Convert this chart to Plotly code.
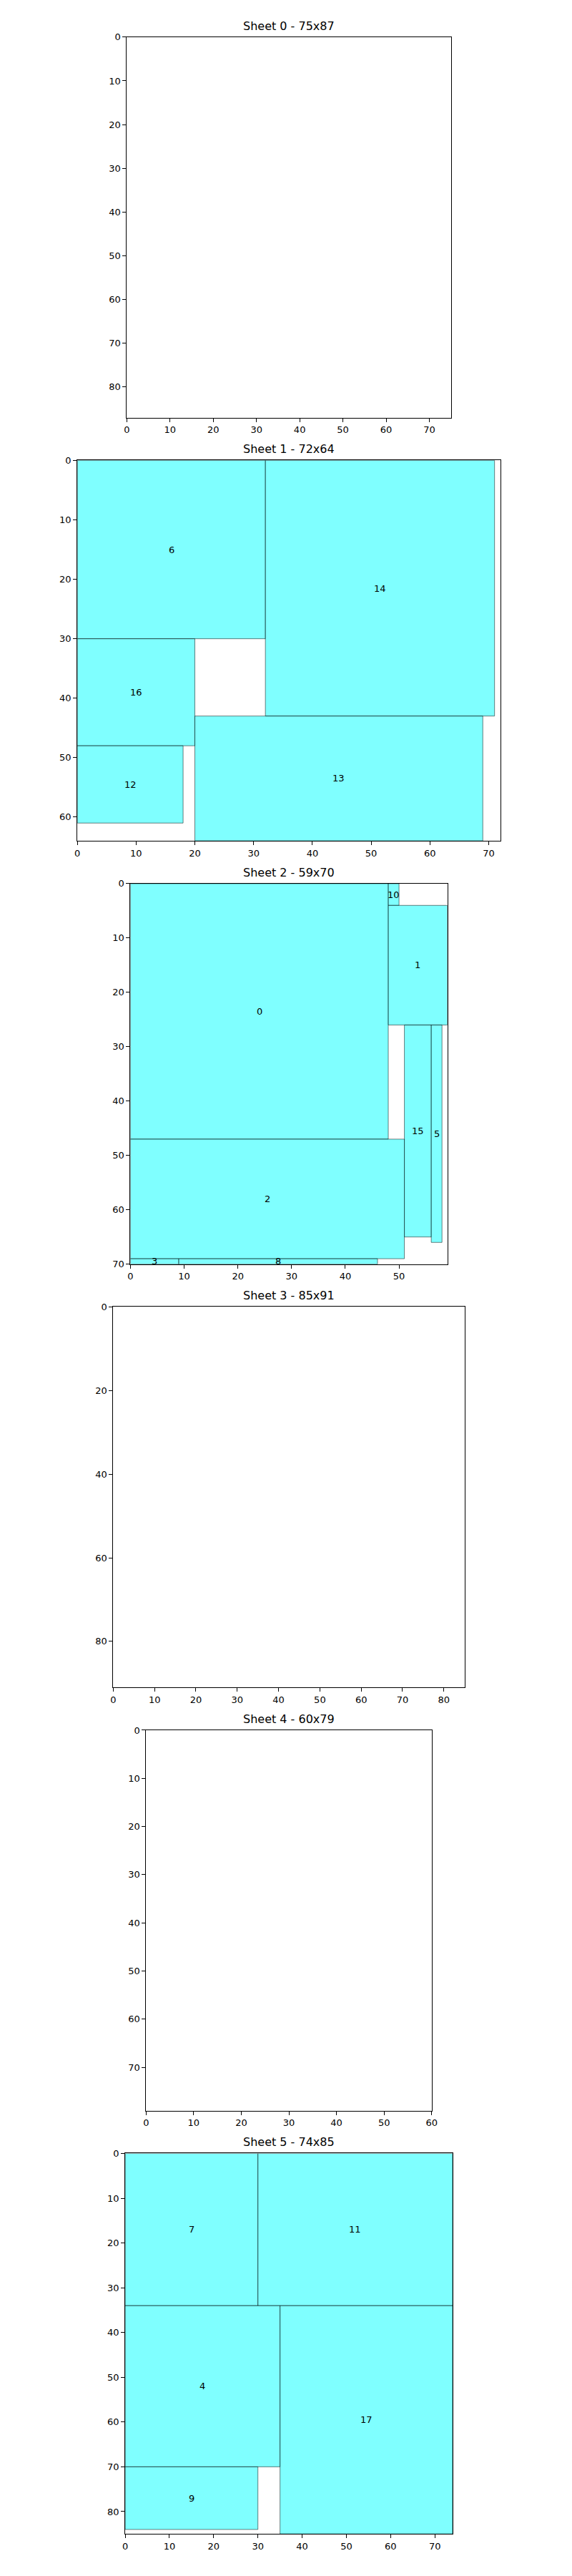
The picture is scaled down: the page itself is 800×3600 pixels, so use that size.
import plotly.graph_objects as go

# sheets
sheet_w = [75, 72, 59, 85, 60, 74]
sheet_h = [87, 64, 70, 91, 79, 85]

# placed pieces: id, sheet, x, y, width, height
piece_id = [6, 14, 16, 12, 13,
            0, 10, 1, 15, 5, 2, 3, 8,
            7, 11, 4, 17, 9]
piece_sheet = [1, 1, 1, 1, 1,
               2, 2, 2, 2, 2, 2, 2, 2,
               5, 5, 5, 5, 5]
piece_x = [0, 32, 0, 0, 20,
           0, 48, 48, 51, 56, 0, 0, 9,
           0, 30, 0, 35, 0]
piece_y = [0, 0, 30, 48, 43,
           0, 0, 4, 26, 26, 47, 69, 69,
           0, 0, 34, 34, 70]
piece_w = [32, 39, 20, 18, 49,
           48, 2, 11, 5, 2, 51, 9, 37,
           30, 44, 35, 39, 30]
piece_h = [30, 43, 18, 13, 21,
           47, 4, 22, 39, 40, 22, 1, 1,
           34, 34, 36, 51, 14]

FIG_W, FIG_H = 800, 3600
TOP0, PITCH, BOX_H, CX = 37, 594, 534, 398

fig = go.Figure()
font = dict(family="DejaVu Sans", size=13, color="black")

for i, (W, H) in enumerate(zip(sheet_w, sheet_h)):
    s = BOX_H / H
    bw = W * s
    x0 = (CX - bw / 2) / FIG_W
    x1 = (CX + bw / 2) / FIG_W
    top = TOP0 + i * PITCH
    y1 = 1 - top / FIG_H
    y0 = 1 - (top + BOX_H) / FIG_H
    n = "" if i == 0 else str(i + 1)
    ax = dict(showgrid=False, zeroline=False, showline=True, mirror=True,
              linecolor="black", linewidth=1, ticks="outside", ticklen=5,
              tickcolor="black", tickfont=font)
    fig.layout["xaxis" + n] = dict(ax, domain=[x0, x1], range=[0, W], dtick=10,
                                   anchor="y" + n)
    fig.layout["yaxis" + n] = dict(ax, domain=[y0, y1], range=[H, 0],
                                   dtick=20 if H > 90 else 10, anchor="x" + n)
    fig.add_annotation(text=f"Sheet {i} - {W}x{H}", xref="paper", yref="paper",
                       x=(x0 + x1) / 2, y=y1, yshift=4, showarrow=False,
                       xanchor="center", yanchor="bottom",
                       font=dict(family="DejaVu Sans", size=16, color="black"))

    # empty trace so every sheet's axes are drawn
    fig.add_trace(go.Scatter(x=[None], y=[None], mode="markers",
                             xaxis="x" + n, yaxis="y" + n,
                             showlegend=False, hoverinfo="skip"))

    for pid, ps, px, py, pw, ph in zip(piece_id, piece_sheet, piece_x, piece_y,
                                        piece_w, piece_h):
        if ps != i:
            continue
        fig.add_trace(go.Scatter(
            x=[px, px + pw, px + pw, px, px], y=[py, py, py + ph, py + ph, py],
            mode="lines", fill="toself", fillcolor="rgba(0,255,255,0.5)",
            line=dict(color="rgba(0,0,0,0.5)", width=1),
            xaxis="x" + n, yaxis="y" + n, showlegend=False, hoverinfo="skip"))
        fig.add_annotation(text=str(pid), x=px + pw / 2, y=py + ph / 2,
                           xref="x" + n, yref="y" + n, showarrow=False, font=font)

fig.update_layout(width=FIG_W, height=FIG_H, margin=dict(l=0, r=0, t=0, b=0),
                  plot_bgcolor="white", paper_bgcolor="white", showlegend=False)
fig.write_html("out.html")
